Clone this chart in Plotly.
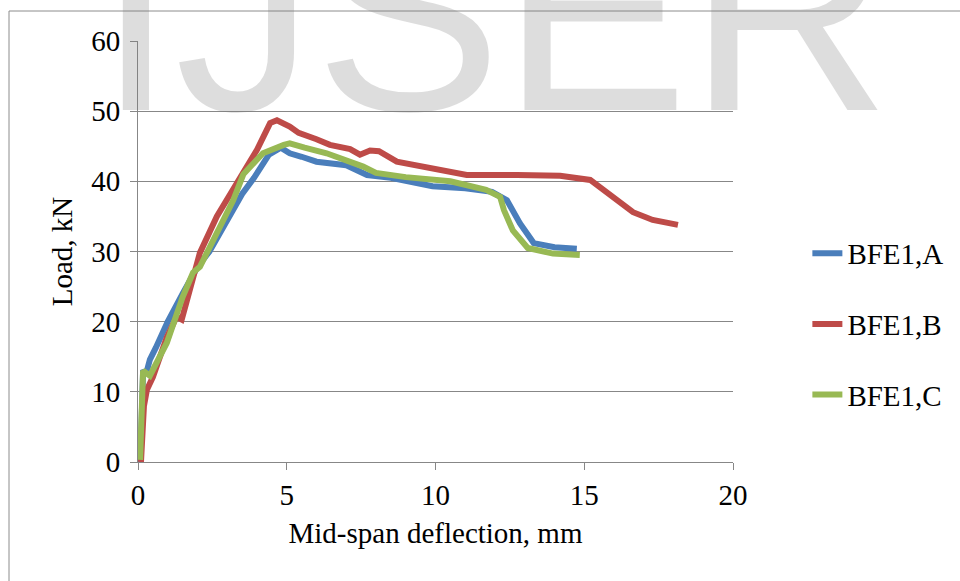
import plotly.graph_objects as go

# ---- data ----
a_x = [0.08, 0.12, 0.17, 0.3, 0.4, 0.6, 1.0, 1.5, 2.0, 2.4, 3.0, 3.5, 3.9, 4.4, 4.8, 5.1, 5.5, 6.0, 7.0, 7.7, 8.5, 9.9, 11.0, 11.9, 12.4, 12.84, 13.3, 14.0, 14.75]
a_y = [0.0, 5.0, 12.8, 13.0, 14.6, 16.3, 20.0, 24.0, 27.8, 30.0, 34.5, 38.2, 40.5, 43.8, 44.8, 44.0, 43.5, 42.8, 42.3, 40.9, 40.5, 39.3, 39.0, 38.5, 37.3, 34.0, 31.2, 30.6, 30.4]

b_x = [0.1, 0.2, 0.3, 0.5, 0.97, 1.3, 1.47, 1.75, 2.08, 2.65, 3.43, 4.0, 4.44, 4.67, 5.1, 5.4, 6.0, 6.45, 7.13, 7.46, 7.8, 8.1, 8.7, 9.9, 11.05, 12.74, 14.19, 15.2, 16.1, 16.64, 17.3, 18.15]
b_y = [0.0, 8.0, 10.3, 12.1, 17.8, 20.7, 20.3, 24.5, 29.8, 35.0, 40.6, 44.5, 48.3, 48.7, 47.8, 46.9, 46.0, 45.2, 44.6, 43.8, 44.4, 44.3, 42.8, 41.9, 40.9, 40.9, 40.8, 40.2, 37.3, 35.6, 34.5, 33.8]

c_x = [0.07, 0.12, 0.17, 0.4, 0.97, 1.5, 1.85, 2.08, 2.42, 3.2, 3.54, 4.2, 4.9, 5.1, 5.6, 6.34, 7.57, 8.0, 9.0, 10.5, 11.7, 12.17, 12.3, 12.6, 13.1, 13.95, 14.85]
c_y = [0.3, 6.0, 13.0, 12.3, 17.0, 23.5, 27.0, 27.8, 30.6, 37.3, 41.0, 44.0, 45.2, 45.4, 44.8, 44.0, 42.1, 41.2, 40.6, 40.0, 38.8, 37.8, 35.9, 33.0, 30.5, 29.7, 29.5]

series_names = ["BFE1,A", "BFE1,B", "BFE1,C"]
series_colors = ["#4a7ebb", "#be4b48", "#98b954"]

x_ticks = [0, 5, 10, 15, 20]
y_ticks = [0, 10, 20, 30, 40, 50, 60]

x_title = "Mid-span deflection, mm"
y_title = "Load, kN"
watermark = "IJSER"

# ---- figure ----
fig = go.Figure()
for (xs, ys), name, col in zip([(a_x, a_y), (b_x, b_y), (c_x, c_y)], series_names, series_colors):
    fig.add_trace(go.Scatter(x=xs, y=ys, mode="lines", name=name, legendgroup=name,
                             line=dict(color=col, width=6)))

serif = "Liberation Serif, Times New Roman, serif"
gray = "#878787"

fig.update_layout(
    width=960, height=581,
    margin=dict(l=138, r=227, t=41, b=119),
    paper_bgcolor="white", plot_bgcolor="white",
    font=dict(family=serif, size=29, color="black"),
    showlegend=True,
    legend=dict(x=1.125, y=0.327, xanchor="left", yanchor="middle",
                font=dict(family=serif, size=29, color="black"),
                tracegroupgap=30, bgcolor="rgba(0,0,0,0)"),
    xaxis=dict(range=[0, 20], tickvals=x_ticks, ticktext=[str(v) for v in x_ticks],
               showgrid=False, zeroline=False, showline=True, linecolor=gray, linewidth=1,
               ticks="outside", ticklen=7, tickcolor=gray, tickwidth=1,
               tickfont=dict(family=serif, size=29), ticklabelstandoff=0,
               title=dict(text=x_title, font=dict(family=serif, size=29), standoff=12)),
    yaxis=dict(range=[0, 60], tickvals=y_ticks, ticktext=[str(v) for v in y_ticks],
               showgrid=True, gridcolor=gray, gridwidth=1, zeroline=False,
               showline=True, linecolor=gray, linewidth=1,
               ticks="outside", ticklen=7, tickcolor=gray, tickwidth=1,
               tickfont=dict(family=serif, size=29), ticklabelstandoff=4,
               title=dict(text=y_title, font=dict(family=serif, size=29), standoff=10)),
)

# outer chart border
fig.add_shape(type="rect", xref="paper", yref="paper",
              x0=(9 - 138) / 595, x1=(970 - 138) / 595,
              y0=(462 - 600) / 421, y1=(462 - 11) / 421,
              line=dict(color="#8c8c8c", width=1), fillcolor="rgba(0,0,0,0)", layer="below")

# watermark
fig.add_annotation(text=watermark, xref="paper", yref="paper",
                   x=(494 - 138) / 595, y=(462 - 170) / 421,
                   xanchor="center", yanchor="bottom", showarrow=False, borderpad=0,
                   font=dict(family="Liberation Sans, Arial, sans-serif", size=280,
                             color="rgba(120,120,120,0.25)"))

fig.write_html("out.html")
